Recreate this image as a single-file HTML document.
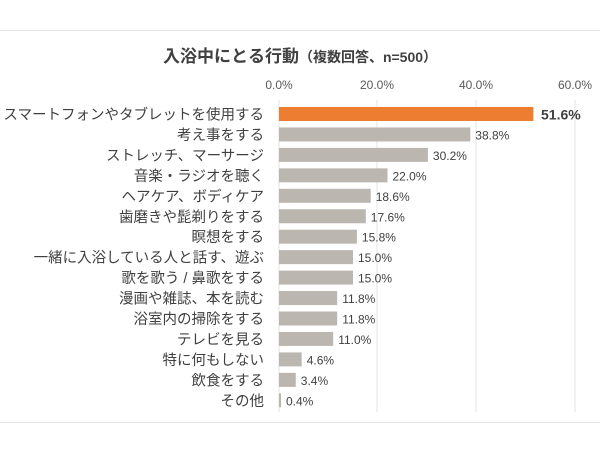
<!DOCTYPE html>
<html><head><meta charset="utf-8"><style>
body{margin:0;background:#fff;}
svg text{font-family:"Liberation Sans","Noto Sans CJK JP",sans-serif;}
</style></head><body>
<svg width="600" height="450" xmlns="http://www.w3.org/2000/svg">
<rect width="600" height="450" fill="#fff"/>
<line x1="0" y1="30.5" x2="600" y2="30.5" stroke="#e6e6e6"/>
<line x1="0" y1="422.5" x2="600" y2="422.5" stroke="#e6e6e6"/>
<text x="300" y="62" text-anchor="middle" font-size="17" font-weight="bold" fill="#404040">入浴中にとる行動<tspan font-size="14">（複数回答、n=500）</tspan></text>
<g font-size="12" fill="#595959" text-anchor="middle">
<text x="279" y="89">0.0%</text><text x="377" y="89">20.0%</text><text x="476" y="89">40.0%</text><text x="575" y="89">60.0%</text>
</g>
<g stroke="#e3e3e3">
<line x1="279" y1="100" x2="279" y2="412"/><line x1="377" y1="100" x2="377" y2="412"/><line x1="476" y1="100" x2="476" y2="412"/><line x1="575" y1="100" x2="575" y2="412"/>
</g>
<g fill="#bcb6b1">
<rect x="279" y="107" width="254.4" height="14" fill="#ed7d31"/>
<rect x="279" y="127.45" width="191.3" height="14"/>
<rect x="279" y="147.9" width="148.9" height="14"/>
<rect x="279" y="168.35" width="108.5" height="14"/>
<rect x="279" y="188.8" width="91.7" height="14"/>
<rect x="279" y="209.25" width="86.8" height="14"/>
<rect x="279" y="229.7" width="77.9" height="14"/>
<rect x="279" y="250.15" width="74" height="14"/>
<rect x="279" y="270.6" width="74" height="14"/>
<rect x="279" y="291.05" width="58.2" height="14"/>
<rect x="279" y="311.5" width="58.2" height="14"/>
<rect x="279" y="331.95" width="54.2" height="14"/>
<rect x="279" y="352.4" width="22.7" height="14"/>
<rect x="279" y="372.85" width="16.8" height="14"/>
<rect x="279" y="393.3" width="2" height="14"/>
</g>
<g font-size="14.5" fill="#404040" text-anchor="end">
<text x="264" y="119.5">スマートフォンやタブレットを使用する</text>
<text x="264" y="139.95">考え事をする</text>
<text x="264" y="160.4">ストレッチ、マーサージ</text>
<text x="264" y="180.85">音楽・ラジオを聴く</text>
<text x="264" y="201.3">ヘアケア、ボディケア</text>
<text x="264" y="221.75">歯磨きや髭剃りをする</text>
<text x="264" y="242.2">瞑想をする</text>
<text x="264" y="262.65">一緒に入浴している人と話す、遊ぶ</text>
<text x="264" y="283.1">歌を歌う / 鼻歌をする</text>
<text x="264" y="303.55">漫画や雑誌、本を読む</text>
<text x="264" y="324">浴室内の掃除をする</text>
<text x="264" y="344.45">テレビを見る</text>
<text x="264" y="364.9">特に何もしない</text>
<text x="264" y="385.35">飲食をする</text>
<text x="264" y="405.8">その他</text>
</g>
<g font-size="12" fill="#404040">
<text x="541" y="119.5" font-size="14" font-weight="bold">51.6%</text>
<text x="475.3" y="139.45">38.8%</text>
<text x="432.9" y="159.9">30.2%</text>
<text x="392.5" y="180.35">22.0%</text>
<text x="375.7" y="200.8">18.6%</text>
<text x="370.8" y="221.25">17.6%</text>
<text x="361.9" y="241.7">15.8%</text>
<text x="358" y="262.15">15.0%</text>
<text x="358" y="282.6">15.0%</text>
<text x="342.2" y="303.05">11.8%</text>
<text x="342.2" y="323.5">11.8%</text>
<text x="338.2" y="343.95">11.0%</text>
<text x="306.7" y="364.4">4.6%</text>
<text x="300.8" y="384.85">3.4%</text>
<text x="286" y="405.3">0.4%</text>
</g>
</svg>
</body></html>
